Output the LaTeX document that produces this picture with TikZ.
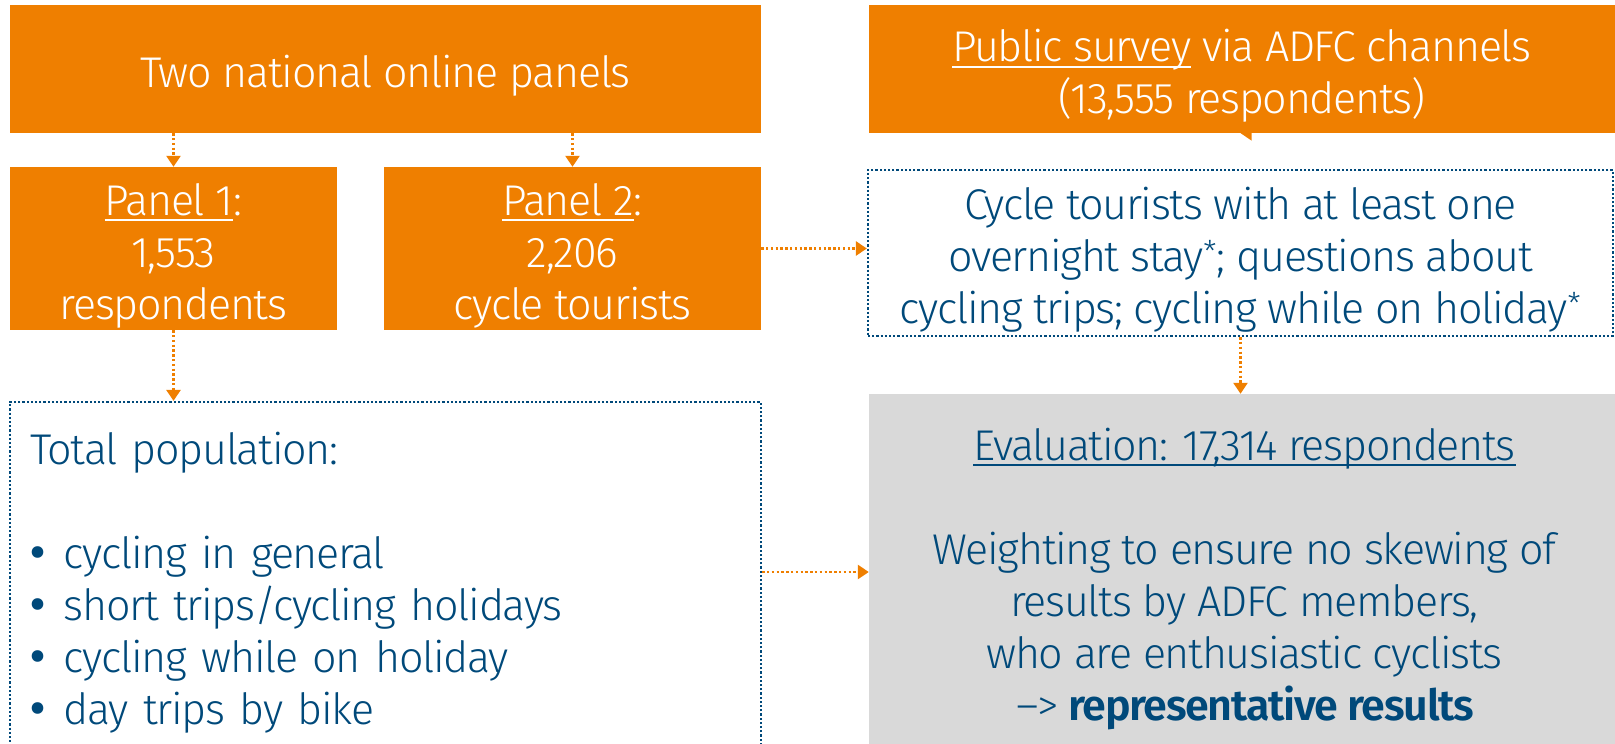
\documentclass[tikz,border=0pt]{standalone}
\usepackage{fontspec}
\setmainfont{Fira Sans Light}[BoldFont={Fira Sans SemiBold}, LetterSpace=-3]
\usetikzlibrary{arrows.meta}
\definecolor{adfcorange}{RGB}{239,127,0}
\definecolor{adfcblue}{RGB}{0,73,122}
\definecolor{evalgray}{RGB}{217,217,217}
\tikzstyle{source}=[rectangle, fill=adfcorange, text=white, align=center, inner sep=0pt]
\tikzstyle{group}=[rectangle, draw=adfcblue, line width=2.2pt, dash pattern=on 2.2pt off 2pt, text=adfcblue, inner sep=0pt]
\tikzstyle{result}=[rectangle, fill=evalgray, text=adfcblue, align=center, inner sep=0pt]
\tikzstyle{flow}=[draw=adfcorange, line width=2.4pt, dash pattern=on 2.4pt off 2.4pt, -{Triangle[width=14pt,length=11pt]}]
\newcommand{\bul}{\makebox[34pt][l]{\raisebox{1pt}{\fontsize{44}{52}\selectfont\textbf{\textbullet}}}}
\newcommand{\uln}[1]{\setbox0\hbox{#1}\rlap{\rule[-6pt]{\wd0}{2pt}}\box0\relax}
\newcommand{\lift}{\rule{0pt}{46pt}}

\begin{document}
\begin{tikzpicture}[x=1pt, y=-1pt, font=\fontsize{43}{52}\selectfont]
                \useasboundingbox (0,0) rectangle (1615,744);
                \node[source, minimum width=751pt, minimum height=128pt] (online) at (385.5, 69) {\lift Two national online panels};
                \node[source, minimum width=327pt, minimum height=163pt] (panel1) at (173.5, 248.5) {\lift\uln{Panel 1}:\\1,553\\respondents};
                \node[source, minimum width=377pt, minimum height=163pt] (panel2) at (572.5, 248.5) {\lift\uln{Panel 2}:\\2,206\\cycle tourists};
                \node[source, minimum width=746pt, minimum height=128pt] (public) at (1242, 69) {\lift\uln{Public survey} via ADFC channels\\(13,555 respondents)};
                \node[group, minimum width=745pt, minimum height=166pt, align=center] (tourists) at (1240.5, 253) {\lift Cycle tourists with at least one\\overnight stay\textsuperscript{*}; questions about\\cycling trips; cycling while on holiday\textsuperscript{*}};
                \node[group, minimum width=751pt, minimum height=348pt, text width=711pt, align=left] (total) at (385.5, 576) {\lift Total population:\\[52pt]\bul cycling in general\\\bul short trips/cycling holidays\\\bul cycling while on holiday\\\bul day trips by bike};
                \node[result, minimum width=751pt, minimum height=356pt] (eval) at (1244.5, 572) {\lift\uln{Evaluation: 17,314 respondents}\\[52pt]Weighting to ensure no skewing of\\results by ADFC members,\\who are enthusiastic cyclists\\–> \textbf{representative results}};
                \draw[flow] (panel1 |- online.south)--(panel1.north);
                \draw[flow] (panel2 |- online.south)--(panel2.north);
                \draw[flow] (public.south)--(public.south -| tourists.north);
                \draw[flow] (panel1.south)--(panel1.south |- total.north);
                \draw[flow] (panel2.east)--(panel2.east -| tourists.west);
                \draw[flow] (tourists.south)--(tourists.south |- eval.north);
                \draw[flow] (total.east |- eval.west)--(eval.west);
            \end{tikzpicture}
\end{document}
